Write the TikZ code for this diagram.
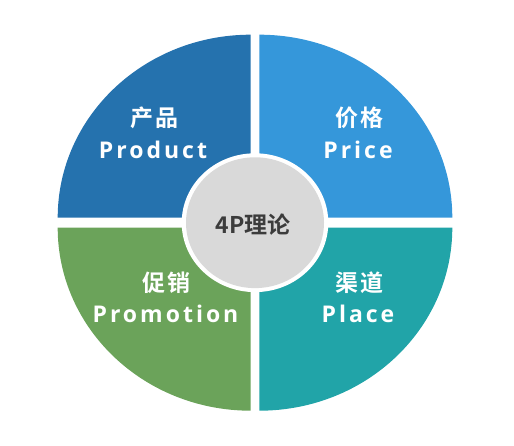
\documentclass[tikz,border=0pt]{standalone}
\usepackage{fontspec}
\newfontfamily\cjkfont{Noto Sans CJK SC}[UprightFont=* Bold, LetterSpace=12]
\newfontfamily\cjkcenter{Noto Sans CJK SC}[UprightFont=* Bold]
\newfontfamily\latfont{Open Sans}[UprightFont=* Bold, LetterSpace=13]
\definecolor{qprod}{HTML}{2572AE}
\definecolor{qprice}{HTML}{3597DA}
\definecolor{qplace}{HTML}{21A4A8}
\definecolor{qpromo}{HTML}{6BA35A}
\definecolor{hubgray}{HTML}{D9D9D9}
\definecolor{hubtext}{HTML}{3C3C3C}
\tikzset{
  zh/.style={inner sep=0pt, text=white, font=\cjkfont\fontsize{23}{26}\selectfont},
  en/.style={inner sep=0pt, text=white, font=\latfont\fontsize{23}{26}\selectfont},
  hub/.style={inner sep=0pt, text=hubtext, font=\cjkcenter\fontsize{23}{26}\selectfont}
}
\begin{document}
\begin{tikzpicture}[x=1pt,y=1pt]
\useasboundingbox (0,0) rectangle (514,446);
% quadrants
\fill[qprod] (250.7,228.3) -- ++(-193,0) arc[start angle=180,end angle=90,x radius=193,y radius=183] -- cycle;
\fill[qprice] (259.3,228.3) -- ++(0,183) arc[start angle=90,end angle=0,x radius=193,y radius=183] -- cycle;
\fill[qplace] (259.3,218.3) -- ++(193,0) arc[start angle=0,end angle=-90,x radius=193,y radius=183] -- cycle;
\fill[qpromo] (250.7,218.3) -- ++(0,-183) arc[start angle=-90,end angle=-180,x radius=193,y radius=183] -- cycle;
% hub
\fill[white] (255,223.3) ellipse[x radius=73.3,y radius=69.4];
\fill[hubgray] (255,223.3) ellipse[x radius=69,y radius=65.4];
\node[hub] (center) at (253,221) {4P理论};
% labels
\node[zh] (prodzh) at (154.5,328) {产品};
\node[en] (proden) at (153,296) {Product};
\node[zh] (pricezh) at (359.5,328) {价格};
\node[en] (priceen) at (358,296) {Price};
\node[zh] (promozh) at (166.5,163) {促销};
\node[en] (promoen) at (165.5,132) {Promotion};
\node[zh] (placezh) at (359.5,163) {渠道};
\node[en] (placeen) at (358,132) {Place};
\end{tikzpicture}
\end{document}
